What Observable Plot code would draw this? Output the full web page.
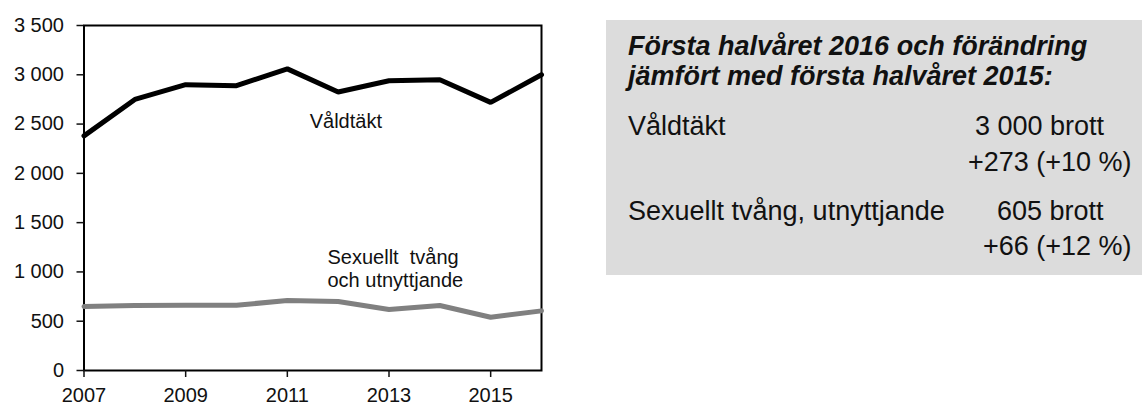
<!DOCTYPE html>
<html>
<head>
<meta charset="utf-8">
<script src="https://cdn.jsdelivr.net/npm/d3@7"></script>
<script src="https://cdn.jsdelivr.net/npm/@observablehq/plot@0.6"></script>
<style>
  html, body { margin: 0; padding: 0; background: #fff; overflow: hidden; }
  body { width: 1142px; height: 405px; position: relative; font-family: Arial, "Liberation Sans", sans-serif; color: #111; }
  #chart { position: absolute; left: 0; top: 0; }
  #box { position: absolute; left: 606px; top: 20px; width: 536px; height: 255px; background: #dcdcdc; }
  #box div { position: absolute; white-space: pre; font-size: 27px; }
  #box .title { font-weight: bold; font-style: italic; }
</style>
</head>
<body>
<div id="chart"></div>
<div id="box"></div>
<script>
// ---- data ----
const years    = [2007, 2008, 2009, 2010, 2011, 2012, 2013, 2014, 2015, 2016];
const valdtakt = [2380, 2750, 2900, 2890, 3060, 2825, 2940, 2950, 2720, 3000];
const sexuellt = [650, 660, 662, 662, 710, 700, 618, 660, 540, 605];
const xTicks = [2007, 2009, 2011, 2013, 2015];
const yTicks = [0, 500, 1000, 1500, 2000, 2500, 3000, 3500];
const seriesNames = ["Våldtäkt", "Sexuellt  tvång\noch utnyttjande"];
const boxTitle = ["Första halvåret 2016 och förändring", "jämfört med första halvåret 2015:"];
const boxRows = [
  {label: "Våldtäkt", count: "3 000 brott", change: "+273 (+10 %)"},
  {label: "Sexuellt tvång, utnyttjande", count: "605 brott", change: "+66 (+12 %)"}
];

const rows = years.map((y, i) => ({year: y, v: valdtakt[i], s: sexuellt[i]}));
const sv = d3.formatLocale({decimal: ",", thousands: " ", grouping: [3], currency: ["", ""]});
const fmt = sv.format(",");

const chart = Plot.plot({
  width: 560,
  height: 405,
  marginLeft: 83.5,
  marginRight: 19,
  marginTop: 25,
  marginBottom: 35,
  style: {fontSize: "20px", fontFamily: "Arial, 'Liberation Sans', sans-serif", color: "#111", background: "transparent"},
  x: {domain: [2007, 2016]},
  y: {domain: [0, 3500]},
  marks: [
    Plot.frame({stroke: "#000", strokeWidth: 2}),
    Plot.axisY({ticks: yTicks, tickFormat: fmt, tickSize: 7, tickPadding: 13, strokeWidth: 1.5, label: null}),
    Plot.axisX({ticks: xTicks, tickFormat: d => String(d), tickSize: 7, tickPadding: 10, strokeWidth: 1.5, label: null}),
    Plot.line(rows, {x: "year", y: "s", stroke: "#808080", strokeWidth: 5, strokeLinejoin: "miter"}),
    Plot.line(rows, {x: "year", y: "v", stroke: "#000", strokeWidth: 5, strokeLinejoin: "miter"}),
    Plot.text([seriesNames[0]], {x: 2011.44, y: 2526, text: d => d, textAnchor: "start", fill: "#111", fontSize: 20}),
    Plot.text([seriesNames[1]], {x: 2011.79, y: 1040, text: d => d, textAnchor: "start", fill: "#111", fontSize: 20, lineHeight: 1.15})
  ]
});
document.getElementById("chart").appendChild(chart);

// ---- info box ----
const box = document.getElementById("box");
const FS = 27;
function add(text, cls, left, baseline, lh) {
  const d = document.createElement("div");
  if (cls) d.className = cls;
  d.textContent = text;
  d.style.lineHeight = lh + "px";
  const off = (lh - FS * 1.117) / 2 + FS * 0.905;
  d.style.left = (left - 606) + "px";
  d.style.top = (baseline - off - 20) + "px";
  box.appendChild(d);
}
add(boxTitle[0], "title", 628, 55, 22);
add(boxTitle[1], "title", 628, 85, 22);
add(boxRows[0].label, "", 628, 136, 27);
add(boxRows[0].count, "", 975, 136, 27);
add(boxRows[0].change, "", 968, 172, 27);
add(boxRows[1].label, "", 628, 221, 27);
add(boxRows[1].count, "", 997, 221, 27);
add(boxRows[1].change, "", 983, 256, 27);
</script>
</body>
</html>
